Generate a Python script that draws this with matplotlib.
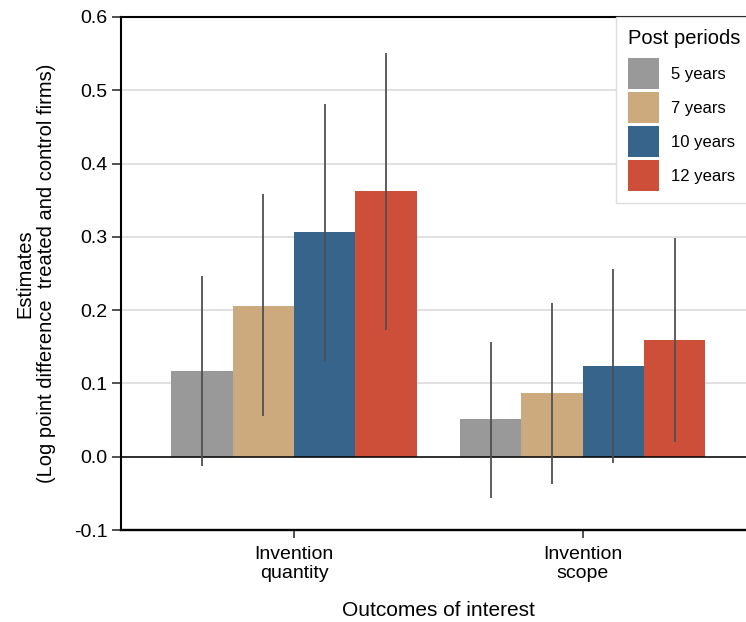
import numpy as np
import matplotlib
matplotlib.use("Agg")
import matplotlib.pyplot as plt

plt.rcParams['font.family'] = ['Liberation Sans', 'DejaVu Sans']
plt.rcParams['axes.unicode_minus'] = False

outcomes = ['Invention\nquantity', 'Invention\nscope']
periods = ['5 years', '7 years', '10 years', '12 years']
colors = ['#999999', '#CDAA7D', '#36648B', '#CD4F39']

# point estimates and 95% CI bounds, one row per post period
estimates = [[0.117, 0.051],
             [0.206, 0.087],
             [0.306, 0.124],
             [0.362, 0.159]]
ci_low = [[-0.013, -0.056],
          [0.055, -0.037],
          [0.131, -0.009],
          [0.173, 0.020]]
ci_high = [[0.247, 0.157],
           [0.358, 0.210],
           [0.481, 0.256],
           [0.551, 0.298]]

fig = plt.figure(figsize=(7.46, 6.22), dpi=100)
ax = fig.add_axes([0.1622, 0.1479, 0.8508, 0.8248])

x = np.arange(len(outcomes))
width = 0.85 / len(periods)

for i, p in enumerate(periods):
    pos = x + (i - 1.5) * width
    ax.bar(pos, estimates[i], width=width, color=colors[i], label=p, zorder=2)
    ax.vlines(pos, ci_low[i], ci_high[i], color='#505050', linewidth=1.3, zorder=3)

ax.axhline(0, color='black', linewidth=1.1, zorder=2.5)

ax.set_xlim(-0.6, 1.6)
ax.set_ylim(-0.1, 0.6)
yt = np.arange(-0.1, 0.61, 0.1)
ax.set_yticks(yt)
ax.set_yticklabels(['%.1f' % v for v in yt])
ax.set_xticks(x)
ax.set_xticklabels(outcomes, fontsize=14, linespacing=1.15)
ax.tick_params(axis='y', labelsize=14, length=6.5, width=1.2, pad=3, color='#333333')
ax.tick_params(axis='x', length=5.5, width=1.2, pad=6, color='#333333')

ax.yaxis.grid(True, color='#dcdcdc', linewidth=1.2, zorder=0)
ax.set_axisbelow(True)

for side in ['left', 'top']:
    ax.spines[side].set_linewidth(1.5)
ax.spines['bottom'].set_linewidth(1.7)
ax.spines['right'].set_visible(False)

ax.set_ylabel('Estimates\n(Log point difference  treated and control firms)',
              fontsize=14.5, labelpad=13, linespacing=1.2, multialignment='center')
ax.set_xlabel('Outcomes of interest', fontsize=15, labelpad=14)

leg = ax.legend(title='Post periods', loc='upper left',
                bbox_to_anchor=(616 / 746, 1 - 17 / 622), bbox_transform=fig.transFigure,
                borderaxespad=0, fontsize=12, title_fontsize=14.5, frameon=True,
                fancybox=False, edgecolor='#dddddd', framealpha=1,
                handlelength=1.86, handleheight=2.48, labelspacing=0.18,
                handletextpad=0.75, borderpad=0.7)
leg.get_frame().set_linewidth(1.0)
leg._legend_box.align = 'left'
leg._legend_box.sep = 7.5  # extra room under the title

fig.savefig('out.png', dpi=100)
